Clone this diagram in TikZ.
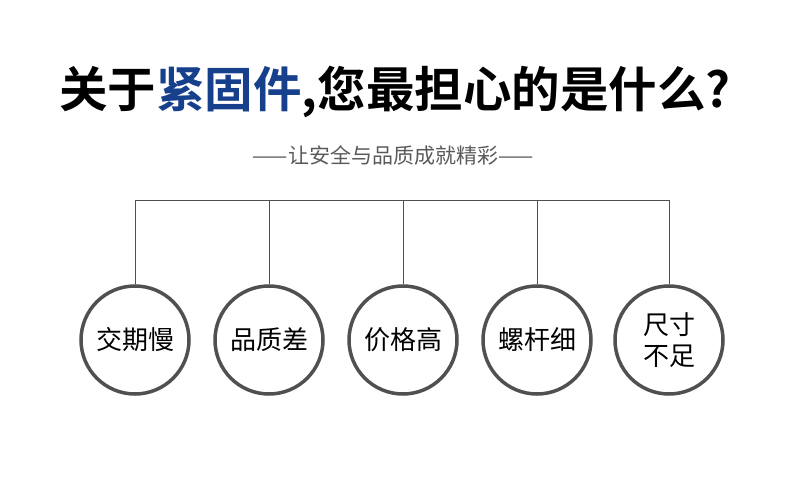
\documentclass[tikz,border=0pt]{standalone}
\usepackage{fontspec}
\setmainfont{Noto Sans CJK SC}
\newfontfamily\cjkbold{Noto Sans CJK SC Bold}
\usetikzlibrary{positioning}
\definecolor{titleblue}{RGB}{22,64,140}
\definecolor{ringc}{RGB}{80,80,80}
\definecolor{subc}{RGB}{90,90,90}
\begin{document}
\begin{tikzpicture}[x=1pt,y=-1pt,
		worry/.style={circle,draw=ringc,line width=3.5pt,minimum size=108pt,inner sep=0pt,
			font=\fontsize{26}{31}\selectfont,align=center,fill=white},
		wire/.style={draw=ringc,line width=0.8pt}]
		\useasboundingbox[fill=white] (0,0) rectangle (790,497);

		\node[font=\cjkbold\fontsize{48.5}{54}\selectfont](title) at (395,92)
			{关于\textcolor{titleblue}{紧固件},您最担心的是什么?};
		\node[font=\fontsize{21}{25}\selectfont,text=subc](sub) at (393,155)
			{——让安全与品质成就精彩——};

		\node[worry](C1) at (135,340) {交期慢};
		\node[worry](C2) at (269,340) {品质差};
		\node[worry](C3) at (403,340) {价格高};
		\node[worry](C4) at (537,340) {螺杆细};
		\node[worry](C5) at (669,340) {尺寸\\不足};

		% connections
		\foreach \i in {1,...,5}
			\coordinate (T\i) at (C\i.north |- 0,200);
		\draw[wire] (T1) -- (T5);
		\foreach \i in {1,...,5}
			\draw[wire] (T\i) -- (C\i.north);
\end{tikzpicture}
\end{document}
